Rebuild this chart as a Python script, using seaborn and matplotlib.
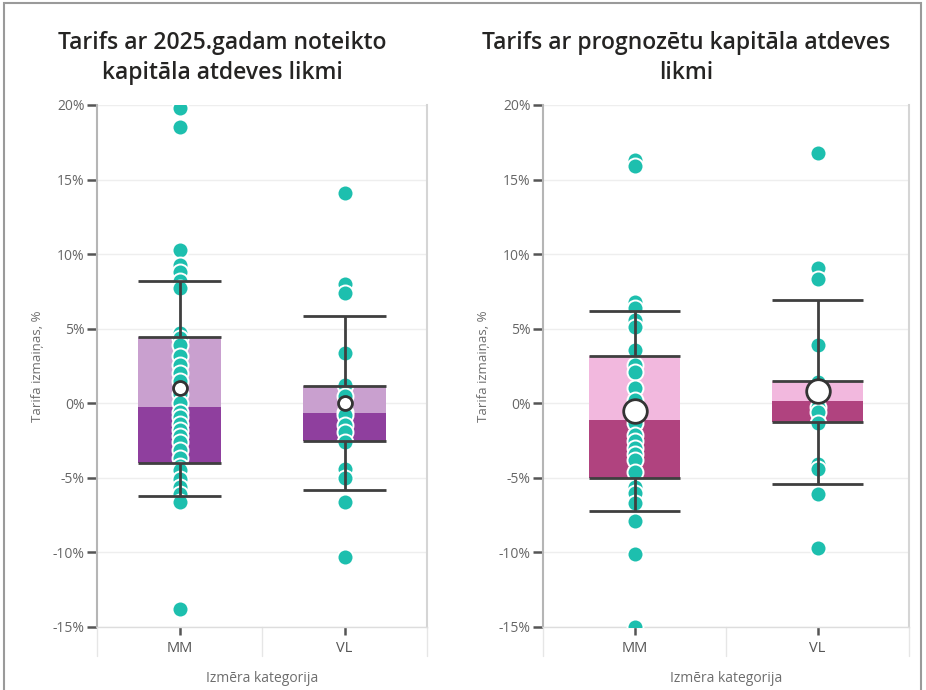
import numpy as np
import pandas as pd
import matplotlib
matplotlib.use("Agg")
import matplotlib.pyplot as plt
import seaborn as sns
from matplotlib.patches import Rectangle

sns.set_theme(style="white")
plt.rcParams['font.family'] = ['Open Sans', 'DejaVu Sans']

# ---------------- data ----------------
categories = ["MM", "VL"]
yticks = [-15, -10, -5, 0, 5, 10, 15, 20]

titles = ["Tarifs ar 2025.gadam noteikto\nkapitāla atdeves likmi",
          "Tarifs ar prognozētu kapitāla atdeves\nlikmi"]

# Panel 1: 2025 fixed return rate
p1_mm = [19.8, 18.5, 10.3, 9.3, 8.8, 8.2, 7.7, 4.7, 4.4, 3.9, 3.2, 2.6, 2.0, 1.5,
         0.6, 0.0, -0.6, -0.9, -1.4, -1.8, -2.2, -2.6, -3.1, -3.7, -4.2, -4.5,
         -5.1, -5.6, -6.1, -6.6, -13.8]
p1_vl = [14.1, 8.0, 7.4, 3.4, 1.2, 0.5, -0.6, -0.8, -1.45, -1.9, -2.6, -4.4,
         -5.0, -6.6, -10.3]
p1_q1 = [-4.0, -2.55]
p1_med = [-0.25, -0.65]
p1_q3 = [4.45, 1.15]
p1_wlo = [-6.2, -5.8]
p1_whi = [8.2, 5.85]
p1_mean = [1.0, 0.0]

# Panel 2: forecast return rate
p2_mm = [16.3, 15.9, 6.8, 6.4, 5.6, 5.1, 3.6, 2.6, 2.1, 1.0, 0.2, -0.4, -1.3,
         -2.1, -2.5, -3.0, -3.4, -3.8, -4.6, -5.6, -6.0, -6.7, -7.9, -10.1, -15.0]
p2_vl = [16.8, 9.1, 8.3, 3.9, 1.4, 0.6, -0.25, -0.6, -1.3, -4.1, -4.4, -6.1, -9.7]
p2_q1 = [-5.0, -1.25]
p2_med = [-1.1, 0.15]
p2_q3 = [3.2, 1.5]
p2_wlo = [-7.2, -5.4]
p2_whi = [6.2, 6.9]
p2_mean = [-0.5, 0.8]

# ---------------- styling ----------------
teal = "#1DBFAE"
dark_line = "#3F3F3F"
panels = [
    dict(mm=p1_mm, vl=p1_vl, q1=p1_q1, med=p1_med, q3=p1_q3, wlo=p1_wlo, whi=p1_whi,
         mean=p1_mean, light="#C9A0CF", dark="#8F3F9E", mean_size=10,
         pos=[97, 105, 427, 627], title_x=222),
    dict(mm=p2_mm, vl=p2_vl, q1=p2_q1, med=p2_med, q3=p2_q3, wlo=p2_wlo, whi=p2_whi,
         mean=p2_mean, light="#F2B8DE", dark="#B0437F", mean_size=17,
         pos=[543, 105, 909, 627], title_x=686),
]

W, H = 926, 690
fig = plt.figure(figsize=(W / 100, H / 100), dpi=100)
fig.patch.set_facecolor("white")

for i, p in enumerate(panels):
    x0, y0, x1, y1 = p["pos"]
    ax = fig.add_axes([x0 / W, 1 - y1 / H, (x1 - x0) / W, (y1 - y0) / H])
    df = pd.DataFrame({
        "cat": ["MM"] * len(p["mm"]) + ["VL"] * len(p["vl"]),
        "val": p["mm"] + p["vl"],
    })
    xs = np.arange(len(categories))
    bw = 0.5
    # box halves
    ax.bar(xs, np.array(p["q3"]) - np.array(p["med"]), bottom=p["med"], width=bw,
           color=p["light"], zorder=1, linewidth=0)
    ax.bar(xs, np.array(p["med"]) - np.array(p["q1"]), bottom=p["q1"], width=bw,
           color=p["dark"], zorder=1, linewidth=0)
    # points
    sns.stripplot(data=df, x="cat", y="val", order=categories, jitter=False,
                  color=teal, size=11.5, linewidth=1.4, edgecolor="white",
                  ax=ax, zorder=3)
    # whiskers and box edges
    ax.vlines(xs, p["q3"], p["whi"], color=dark_line, lw=2, zorder=4)
    ax.vlines(xs, p["wlo"], p["q1"], color=dark_line, lw=2, zorder=4)
    for vals in (p["whi"], p["wlo"], p["q1"], p["q3"]):
        ax.hlines(vals, xs - bw / 2, xs + bw / 2, color=dark_line, lw=2, zorder=4)
    # mean
    ax.plot(xs, p["mean"], linestyle="none", marker="o", markersize=p["mean_size"],
            markerfacecolor="white", markeredgecolor="#333333", markeredgewidth=2,
            zorder=5)

    ax.set_xlim(-0.5, 1.5)
    ax.set_ylim(-15, 20)
    ax.set_yticks(yticks)
    ax.set_yticklabels([f"{v}%" for v in yticks])
    ax.yaxis.grid(True, color="#EEEEEE", lw=1)
    ax.set_axisbelow(True)
    ax.tick_params(axis="y", which="major", left=True, length=7, width=1.8,
                   color="#555555", labelcolor="#666666", labelsize=10, pad=2)
    ax.tick_params(axis="x", which="major", bottom=True, length=6, width=1.8,
                   color="#555555", labelcolor="#555555", labelsize=10.5, pad=4)
    ax.spines["top"].set_visible(False)
    ax.spines["left"].set_color("#B5B5B5")
    ax.spines["left"].set_linewidth(1.5)
    ax.spines["right"].set_color("#D5D5D5")
    ax.spines["right"].set_linewidth(1.5)
    ax.spines["bottom"].set_color("#DDDDDD")
    ax.spines["bottom"].set_linewidth(1)
    # category separators below axis
    for xb in (-0.5, 0.5, 1.5):
        ax.axvline(xb, ymin=-0.055, ymax=0, color="#E6E6E6", lw=1, clip_on=False)
    ax.set_xlabel("Izmēra kategorija", color="#6E6E6E", fontsize=10, labelpad=11)
    ax.set_ylabel("Tarifa izmaiņas, %", color="#6E6E6E", fontsize=9.5, labelpad=6)

    fig.text(p["title_x"] / W, 1 - 58 / H, titles[i], ha="center", va="center",
             fontsize=16.5, fontweight="semibold", color="#252423", linespacing=1.3)

# outer frame
fig.patches.append(Rectangle((4 / W, -0.02), (921 - 4) / W, 1.02 - 3 / H,
                             transform=fig.transFigure, fill=False,
                             edgecolor="#9A9A9A", lw=1.5))

fig.savefig("out.png", dpi=100, facecolor="white")
